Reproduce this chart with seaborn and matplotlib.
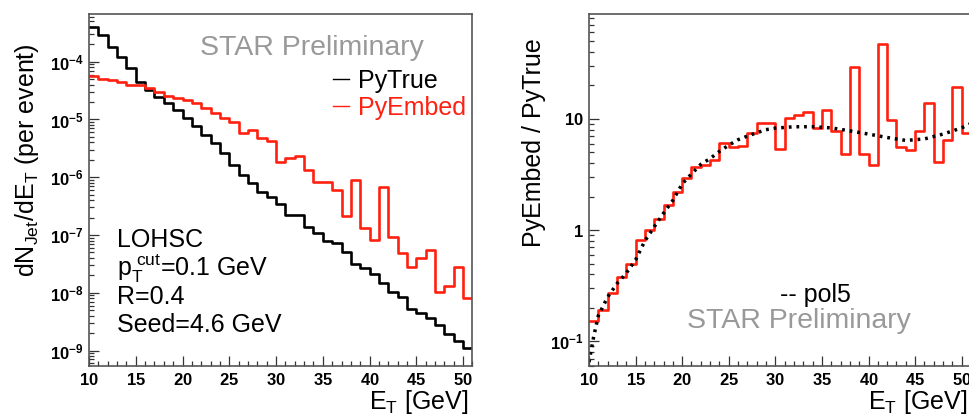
import numpy as np
import pandas as pd
import matplotlib
matplotlib.use("Agg")
import matplotlib.pyplot as plt
import seaborn as sns
from matplotlib.ticker import MultipleLocator, LogLocator, FuncFormatter, NullFormatter

# ---------------- data ----------------
et_low = list(range(10, 51))          # lower bin edges, 1 GeV bins, 10..50
et_edges = et_low + [51]

py_true = [4.07e-4, 2.88e-4, 1.82e-4, 1.23e-4, 7.8e-5, 4.5e-5, 3.2e-5, 2.45e-5, 1.9e-5, 1.45e-5,
           1.05e-5, 7.6e-6, 5.4e-6, 3.9e-6, 2.6e-6, 1.6e-6, 1.1e-6, 7.9e-7, 5.6e-7, 4.6e-7,
           3.5e-7, 2.2e-7, 2.2e-7, 1.4e-7, 1.07e-7, 7.8e-8, 7.2e-8, 5.0e-8, 3.2e-8, 2.7e-8,
           2.1e-8, 1.5e-8, 1.05e-8, 8.5e-9, 5.2e-9, 4.5e-9, 3.6e-9, 2.75e-9, 1.9e-9, 1.45e-9,
           1.1e-9]

py_embed = [5.6e-5, 5.1e-5, 4.8e-5, 4.5e-5, 4.0e-5, 3.9e-5, 3.5e-5, 3.0e-5, 2.6e-5, 2.35e-5,
            2.2e-5, 1.9e-5, 1.55e-5, 1.3e-5, 1.05e-5, 9.1e-6, 5.75e-6, 6.6e-6, 4.7e-6, 4.2e-6,
            1.86e-6, 2.14e-6, 2.3e-6, 1.35e-6, 8.3e-7, 8.3e-7, 6.0e-7, 2.1e-7, 8.9e-7, 1.32e-7,
            8.3e-8, 6.9e-7, 9.3e-8, 4.8e-8, 2.8e-8, 4.0e-8, 5.5e-8, 1.05e-8, 1.3e-8, 2.8e-8,
            8.1e-9]

ratio = [0.151, 0.19, 0.27, 0.38, 0.50, 0.82, 1.0, 1.26, 1.69, 2.18,
         2.93, 3.68, 3.87, 4.29, 6.05, 5.64, 5.72, 7.43, 9.26, 9.26,
         5.35, 10.1, 10.9, 11.6, 8.25, 12.0, 7.75, 4.83, 29.3, 4.8,
         3.87, 47.5, 9.8, 5.64, 5.3, 7.85, 13.8, 4.1, 6.43, 19.5,
         7.43]

fit_et = [10.0, 10.5, 11, 12, 13, 14, 15, 16, 17, 18, 19, 20, 21, 22, 23, 24, 25, 26, 27,
          28, 29, 30, 32, 34, 36, 38, 40, 42, 44, 46, 48, 50, 51]
fit_val = [0.065, 0.11, 0.17, 0.25, 0.33, 0.41, 0.54, 0.80, 1.07, 1.42, 1.85, 2.6, 3.2, 3.9,
           4.4, 5.1, 5.8, 6.5, 7.0, 7.5, 8.0, 8.25, 8.5, 8.5, 8.3, 7.8, 7.3, 6.8, 6.4, 6.6,
           7.3, 8.3, 9.1]

info_lines = ["LOHSC", r"p$_{\mathrm{T}}^{\ \mathrm{cut}}$=0.1 GeV", "R=0.4", "Seed=4.6 GeV"]

# ---------------- style ----------------
plt.rcParams["font.family"] = ["Liberation Sans", "DejaVu Sans"]
plt.rcParams["mathtext.fontset"] = "custom"
plt.rcParams["mathtext.rm"] = "Liberation Sans"
plt.rcParams["mathtext.sf"] = "Liberation Sans"
plt.rcParams["mathtext.it"] = "Liberation Sans:italic"
plt.rcParams["mathtext.bf"] = "Liberation Sans:bold"

RED = "#ff2010"
GRAY = "#999999"
FRAME = "#555555"

df = pd.DataFrame({"et": [e + 0.5 for e in et_low], "true": py_true,
                   "embed": py_embed, "ratio": ratio})
fit_df = pd.DataFrame({"et": fit_et, "val": fit_val})

fig = plt.figure(figsize=(9.70, 4.19), dpi=100)
axL = fig.add_axes([89 / 970, 53 / 419, 383.5 / 970, 352 / 419])
axR = fig.add_axes([589 / 970, 53 / 419, 382 / 970, 352 / 419])

bold_int = FuncFormatter(lambda v, p: r"$\mathbf{%d}$" % int(round(v)))
dec_fmt = FuncFormatter(lambda v, p: r"$\mathbf{10^{%d}}$" % int(round(np.log10(v))))

for ax in (axL, axR):
    for s in ax.spines.values():
        s.set_color(FRAME)
        s.set_linewidth(1.2)
    ax.set_xlim(10, 51)
    ax.xaxis.set_major_locator(MultipleLocator(5))
    ax.xaxis.set_minor_locator(MultipleLocator(1))
    ax.xaxis.set_major_formatter(bold_int)
    ax.tick_params(which="both", direction="in", top=False, right=False,
                   color="#333333", width=0.9, labelsize=12, pad=4)
    ax.tick_params(which="major", length=7.5)
    ax.tick_params(which="minor", length=3.5)

# ---------------- left panel ----------------
sns.histplot(data=df, x="et", weights="true", bins=et_edges, element="step", fill=False,
             color="black", linewidth=1.9, ax=axL, label="PyTrue")
sns.histplot(data=df, x="et", weights="embed", bins=et_edges, element="step", fill=False,
             color=RED, linewidth=1.9, ax=axL, label="PyEmbed")
axL.set_yscale("log")
axL.set_ylim(5.4e-10, 6.7e-4)
axL.yaxis.set_major_locator(LogLocator(base=10, numticks=20))
axL.yaxis.set_minor_locator(LogLocator(base=10, subs=np.arange(2, 10), numticks=20))
axL.yaxis.set_major_formatter(dec_fmt)
axL.yaxis.set_minor_formatter(NullFormatter())
axL.set_xlim(10, 51)

axL.set_xlabel(r"E$_{\mathrm{T}}$ [GeV]", fontsize=18, ha="right", va="center")
axL.xaxis.set_label_coords(0.99, -0.101)
axL.set_ylabel(r"dN$_{\mathrm{Jet}}$/dE$_{\mathrm{T}}$ (per event)", fontsize=18,
               ha="right", va="center")
axL.yaxis.set_label_coords(-0.162, 0.918)

axL.text(0.289, 0.904, "STAR Preliminary", transform=axL.transAxes, fontsize=20.5,
         color=GRAY, ha="left", va="center")
for i, line in enumerate(info_lines):
    axL.text(0.072, 0.358 - i * 0.0805, line, transform=axL.transAxes, fontsize=18,
             color="black", ha="left", va="center")

leg = axL.legend(loc="upper left", bbox_to_anchor=(0.636, 0.845), frameon=False,
                 fontsize=18, handlelength=0.65, handletextpad=0.35, labelspacing=0.12,
                 borderpad=0, borderaxespad=0, labelcolor="linecolor")
for h in leg.legend_handles:
    h.set_linewidth(1.0)

# ---------------- right panel ----------------
sns.histplot(data=df, x="et", weights="ratio", bins=et_edges, element="step", fill=False,
             color=RED, linewidth=1.9, ax=axR)
sns.lineplot(data=fit_df, x="et", y="val", ax=axR, color="black", linewidth=2.5,
             linestyle=(0, (0.8, 1.4)))
axR.set_yscale("log")
axR.set_ylim(0.060, 87.7)
axR.set_yticks([0.1, 1, 10], labels=[r"$\mathbf{10^{-1}}$", r"$\mathbf{1}$", r"$\mathbf{10}$"])
axR.yaxis.set_minor_locator(LogLocator(base=10, subs=np.arange(2, 10), numticks=20))
axR.yaxis.set_minor_formatter(NullFormatter())
axR.set_xlim(10, 51)
axR.spines["right"].set_visible(False)

axR.set_xlabel(r"E$_{\mathrm{T}}$ [GeV]", fontsize=18, ha="right", va="center")
axR.xaxis.set_label_coords(0.99, -0.101)
axR.set_ylabel("PyEmbed / PyTrue", fontsize=18, ha="right", va="center")
axR.yaxis.set_label_coords(-0.144, 0.932)

axR.text(0.50, 0.2017, "-- pol5", transform=axR.transAxes, fontsize=18,
         color="black", ha="left", va="center")
axR.text(0.256, 0.129, "STAR Preliminary", transform=axR.transAxes, fontsize=20.5,
         color=GRAY, ha="left", va="center")

fig.savefig("out.png", dpi=100, facecolor="white")
